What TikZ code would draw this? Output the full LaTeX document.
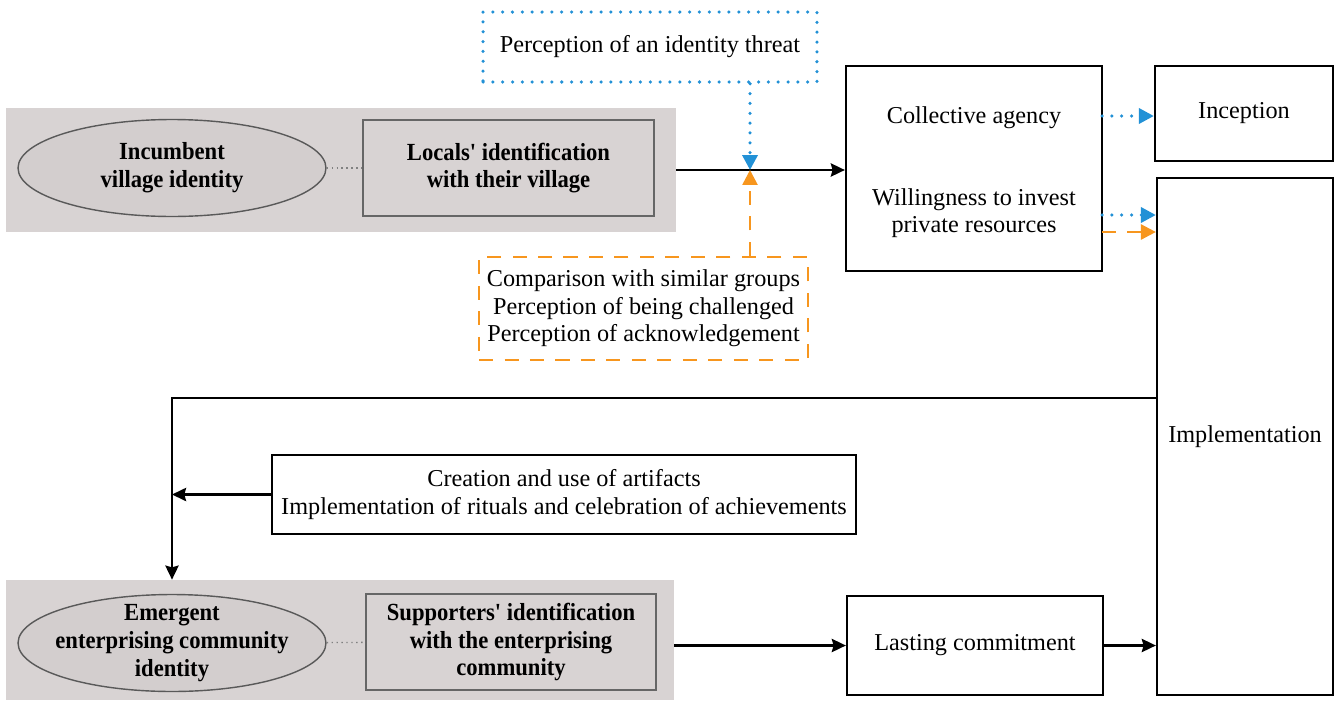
\documentclass[tikz,border=0pt]{standalone}
\usepackage{fontspec}
\setmainfont{Liberation Serif}
\newfontfamily\condserif[FakeStretch=0.92]{Liberation Serif}
\usepackage{tikz}
\usetikzlibrary{shapes.geometric, positioning, arrows, arrows.meta}
\definecolor{panelgray}{HTML}{D8D3D3}
\definecolor{ellgray}{HTML}{D3CECE}
\definecolor{threatblue}{HTML}{2291D6}
\definecolor{cmporange}{HTML}{F7961E}
\def\txt{\fontsize{13.8pt}{15.6pt}\selectfont}
\def\idtxt{\condserif\bfseries\fontsize{14pt}{15.8pt}\selectfont}
\tikzstyle{panel} = [rectangle, fill=panelgray, draw=none]
\tikzstyle{identity} = [ellipse, minimum width=6.16cm, minimum height=1.94cm, inner sep=0pt, draw=black!65, thick, fill=ellgray]
\tikzstyle{idlabel} = [align=center, font=\idtxt]
\tikzstyle{identif} = [rectangle, minimum height=1.92cm, text centered, align=center, draw=black!60, line width=1.1pt, fill=panelgray, font=\idtxt]
\tikzstyle{stage} = [rectangle, text centered, align=center, draw=black, line width=1.3pt, font=\txt]
\tikzstyle{threat} = [rectangle, text centered, draw=threatblue, line width=2pt, line cap=round, dash pattern=on 0pt off 5.6pt, font=\txt]
\tikzstyle{cmp} = [rectangle, text centered, align=center, draw=cmporange, line width=1.4pt, dash pattern=on 8pt off 6.5pt, font=\txt]
\tikzstyle{arrow} = [line width=1.5pt,-{Stealth[length=8pt,width=7.5pt,inset=1pt]}]
\tikzstyle{bluearrow} = [threatblue, line width=2pt, line cap=round, dash pattern=on 0pt off 5.6pt, -{Stealth[length=8.5pt,width=8.5pt,inset=0pt]}]
\tikzstyle{orangearrow} = [cmporange, line width=1.5pt, dash pattern=on 8pt off 6.5pt, -{Stealth[length=8.5pt,width=8.5pt,inset=0pt]}]
\tikzstyle{link} = [black!50, dotted, thick]

\begin{document}
\begin{tikzpicture}[x=0.02cm, y=-0.02cm]
\useasboundingbox (0,0) rectangle (1335,700);

% incumbent identity
\node (villagebg) [panel, minimum width=13.4cm, minimum height=2.48cm] at (341,170) {};
\node (ell1) [identity, label={[idlabel]center:Incumbent\\village identity}] at (172,168) {};
\node (locals) [identif, minimum width=5.82cm] at (508.5,168) {Locals' identification\\with their village};
\draw [link] (ell1) -- (locals);

% moderators
\node (threat) [threat, minimum width=6.68cm, minimum height=1.4cm] at (650,47) {Perception of an identity threat};
\node (cmp) [cmp, minimum width=6.58cm, minimum height=2.06cm] at (643.5,308.5) {Comparison with similar groups\\Perception of being challenged\\Perception of acknowledgement};

% collective agency
\node (agency) [stage, minimum width=5.12cm, minimum height=4.1cm] at (974,168.5) {};
\node (ca) [font=\txt] at (974,118) {Collective agency};
\node (wi) [font=\txt, align=center] at (974,213) {Willingness to invest\\private resources};
\node (inception) [stage, minimum width=3.56cm, minimum height=1.9cm] at (1244,113.5) {Inception};
\node (impl) [stage, minimum width=3.52cm, minimum height=10.34cm] at (1245,436.5) {Implementation};

\coordinate (meet) at (750,170);
\draw [arrow] (villagebg.east |- meet) -- (meet -| agency.west);
\draw [bluearrow] (threat.south -| meet) -- (meet);
\draw [orangearrow] (cmp.north -| meet) -- (meet);

\coordinate (cb) at (1102,116);
\draw [bluearrow] (cb) -- (cb -| inception.west);
\coordinate (wb) at (1102,215);
\coordinate (wo) at (1102,232);
\draw [bluearrow] (wb) -- (wb -| impl.west);
\draw [orangearrow] (wo) -- (wo -| impl.west);

% emergent identity
\node (communitybg) [panel, minimum width=13.36cm, minimum height=2.4cm] at (340,640) {};
\node (ell2) [identity, label={[idlabel]center:Emergent\\enterprising community\\identity}] at (172,643) {};
\node (supporters) [identif, minimum width=5.8cm] at (511,642) {Supporters' identification\\with the enterprising\\community};
\draw [link] (ell2) -- (supporters);

\node (creation) [stage, minimum width=11.68cm, minimum height=1.58cm] at (564,494.5) {Creation and use of artifacts\\Implementation of rituals and celebration of achievements};
\node (lasting) [stage, minimum width=5.12cm, minimum height=1.98cm] at (975,645.5) {Lasting commitment};

\draw [arrow] (impl.west |- 172,398) -| (communitybg.north -| ell2);
\draw [arrow] (creation.west) -- (creation.west -| ell2);
\draw [arrow] (communitybg.east |- lasting) -- (lasting.west);
\draw [arrow] (lasting.east) -- (lasting.east -| impl.west);

\end{tikzpicture}
\end{document}
